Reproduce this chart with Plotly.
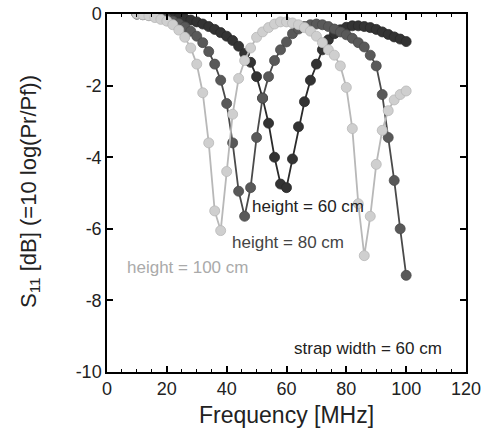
import plotly.graph_objects as go

freq = [10, 12, 14, 16, 18, 20, 22, 24, 26, 28, 30, 32, 34, 36, 38, 40, 42, 44, 46, 48,
        50, 52, 54, 56, 58, 60, 62, 64, 66, 68, 70, 72, 74, 76, 78, 80, 82, 84, 86, 88,
        90, 92, 94, 96, 98, 100]

s11_h60 = [0.0, 0.0, -0.01, -0.02, -0.03, -0.05, -0.07, -0.1, -0.13, -0.17, -0.22, -0.28,
           -0.35, -0.43, -0.52, -0.62, -0.74, -0.9, -1.1, -1.35, -1.75, -2.35, -3.05, -4.0,
           -4.75, -4.85, -4.05, -3.15, -2.45, -1.85, -1.4, -1.0, -0.72, -0.55, -0.44, -0.37,
           -0.33, -0.33, -0.35, -0.38, -0.43, -0.5, -0.57, -0.64, -0.7, -0.77]

s11_h80 = [0.0, -0.02, -0.04, -0.07, -0.1, -0.14, -0.2, -0.27, -0.36, -0.48, -0.62, -0.8,
           -1.05, -1.4, -1.85, -2.5, -3.6, -4.95, -5.65, -4.85, -3.45, -2.35, -1.75, -1.3,
           -1.0, -0.78, -0.55, -0.42, -0.35, -0.3, -0.28, -0.3, -0.35, -0.42, -0.5, -0.58,
           -0.68, -0.8, -0.92, -1.15, -1.45, -2.25, -3.45, -4.65, -6.0, -7.3]

s11_h100 = [0.0, -0.02, -0.05, -0.1, -0.15, -0.2, -0.3, -0.45, -0.65, -0.95, -1.4, -2.2,
            -3.6, -5.5, -6.05, -4.4, -2.8, -1.8, -1.3, -0.95, -0.65, -0.5, -0.38, -0.28,
            -0.22, -0.22, -0.25, -0.3, -0.38, -0.48, -0.62, -0.8, -1.0, -1.15, -1.45, -2.05,
            -3.2, -5.3, -6.75, -5.65, -4.2, -3.25, -2.7, -2.4, -2.25, -2.15]

x_ticks = [0, 20, 40, 60, 80, 100, 120]
y_ticks = [0, -2, -4, -6, -8, -10]

FONT = "Arial, Liberation Sans, sans-serif"

fig = go.Figure()

series = [
    (s11_h60, "#333333", "#2a2a2a"),
    (s11_h80, "#595959", "#4a4a4a"),
    (s11_h100, "#cfcfcf", "#b8b8b8"),
]
for ys, fill, line in series:
    fig.add_trace(go.Scatter(
        x=freq, y=ys, mode="lines+markers",
        line=dict(color=line, width=1.8),
        marker=dict(size=10, color=fill, line=dict(color=line, width=0.8)),
        showlegend=False, hoverinfo="skip",
    ))

axis_common = dict(
    showline=True, linecolor="black", linewidth=1.5, mirror="ticks",
    ticks="inside", tickcolor="black", tickwidth=1.5, ticklen=6,
    showgrid=False, zeroline=False, automargin=False,
    tickfont=dict(family=FONT, size=18, color="#222"),
)

fig.update_xaxes(
    range=[0, 120], tickvals=x_ticks,
    minor=dict(ticks="inside", dtick=5, ticklen=3, tickcolor="black", tickwidth=1.2),
    **axis_common,
)
fig.update_yaxes(
    range=[-10, 0], tickvals=y_ticks, ticktext=[str(v) for v in y_ticks],
    **axis_common,
)

# axis titles placed as paper annotations for precise positioning
fig.add_annotation(xref="paper", yref="paper", x=0.5, y=-0.12, yanchor="middle",
                   text="Frequency [MHz]", showarrow=False,
                   font=dict(family=FONT, size=23, color="#222"))
fig.add_annotation(xref="paper", yref="paper", x=-0.215, y=0.505, xanchor="center",
                   textangle=-90, text="S<sub>11</sub> [dB] (=10 log(Pr/Pf))",
                   showarrow=False, font=dict(family=FONT, size=22, color="#222"))

annotations = [
    ("height = 60 cm", 47.7, -5.39, "#222222"),
    ("height = 80 cm", 41.0, -6.37, "#444444"),
    ("height = 100 cm", 6.0, -7.07, "#aaaaaa"),
    ("strap width = 60 cm", 61.7, -9.33, "#222222"),
]
for text, ax_x, ax_y, col in annotations:
    fig.add_annotation(x=ax_x, y=ax_y, text=text, showarrow=False,
                       xanchor="left", yanchor="middle",
                       font=dict(family=FONT, size=17, color=col))

fig.update_layout(
    width=486, height=437,
    margin=dict(l=107, r=20, t=14, b=65),
    plot_bgcolor="white", paper_bgcolor="white",
)

fig.write_html("out.html", config={"displayModeBar": False},
               post_script="document.body.style.margin='0';document.body.style.overflow='hidden';")
